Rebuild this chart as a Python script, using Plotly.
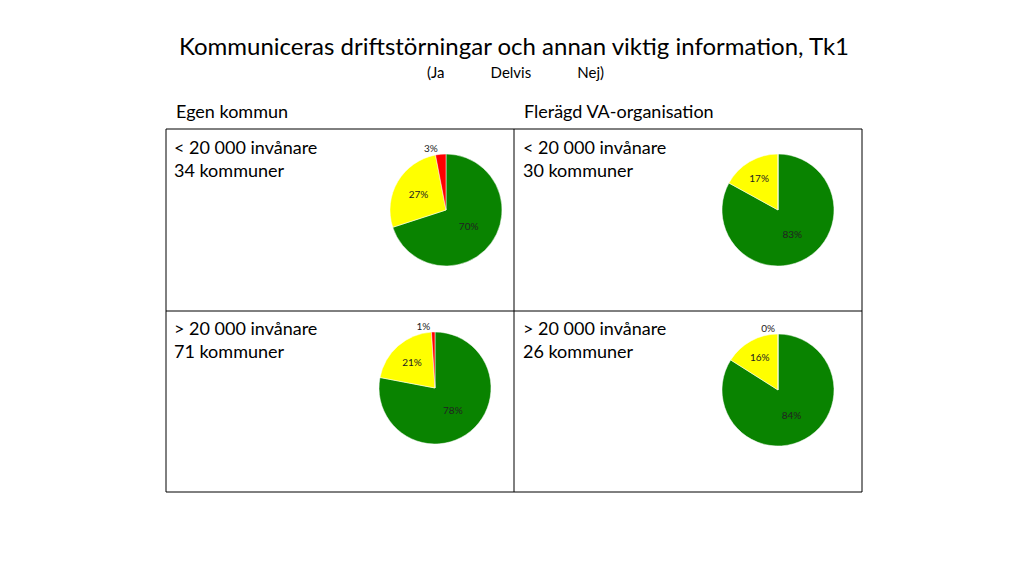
import plotly.graph_objects as go

# data
labels = ['Ja', 'Delvis', 'Nej']
colors = ['#098300', '#ffff00', '#ff0000']
small_egen = [70, 27, 3]
large_egen = [78, 21, 1]
small_fler = [83, 17, 0]
large_fler = [84, 16, 0]

cell_titles = ['< 20 000 invånare<br>34 kommuner', '< 20 000 invånare<br>30 kommuner',
               '> 20 000 invånare<br>71 kommuner', '> 20 000 invånare<br>26 kommuner']

W, H = 1024, 575
OFF = 8  # page body margin
FONT = 'Lato'


def px(x):
    return (x - OFF) / W


def py(y):
    return 1 - (y - OFF) / H


def pie(values, cx, cy, r=56, hide_zero=False):
    tmpl = ['' if (hide_zero and v == 0) else '%{value}%' for v in values]
    return go.Pie(
        labels=labels, values=values,
        marker=dict(colors=colors, line=dict(color='white', width=0.5)),
        sort=False, direction='clockwise', rotation=0,
        texttemplate=tmpl, textposition='auto',
        textfont=dict(size=10, color='#222', family=FONT),
        insidetextorientation='horizontal',
        hoverinfo='label+value', showlegend=False,
        domain=dict(x=[px(cx - r), px(cx + r)], y=[py(cy + r), py(cy - r)]),
    )


fig = go.Figure()
fig.add_trace(pie(small_egen, 446, 210))
fig.add_trace(pie(small_fler, 778, 210, hide_zero=True))
fig.add_trace(pie(large_egen, 435, 388))
fig.add_trace(pie(large_fler, 778, 390))

line = dict(color='black', width=1)
fig.add_shape(type='rect', xref='paper', yref='paper',
              x0=px(166), x1=px(862), y0=py(492), y1=py(129), line=line)
fig.add_shape(type='line', xref='paper', yref='paper',
              x0=px(514), x1=px(514), y0=py(492), y1=py(129), line=line)
fig.add_shape(type='line', xref='paper', yref='paper',
              x0=px(166), x1=px(862), y0=py(311), y1=py(311), line=line)

ann = [
    dict(text='Kommuniceras driftstörningar och annan viktig information, Tk1',
         x=px(514), y=py(45), xanchor='center', size=24),
    dict(text='(Ja            Delvis            Nej)', x=px(515), y=py(72), xanchor='center', size=15),
    dict(text='Egen kommun', x=px(174), y=py(111), xanchor='left', size=18),
    dict(text='Flerägd VA-organisation', x=px(522), y=py(111), xanchor='left', size=18),
    dict(text=cell_titles[0], x=px(172), y=py(158), xanchor='left', size=18),
    dict(text=cell_titles[1], x=px(521), y=py(158), xanchor='left', size=18),
    dict(text=cell_titles[2], x=px(172), y=py(339), xanchor='left', size=18),
    dict(text=cell_titles[3], x=px(521), y=py(339), xanchor='left', size=18),
]
for a in ann:
    fig.add_annotation(text=a['text'], x=a['x'], y=a['y'], xref='paper', yref='paper',
                       xanchor=a['xanchor'], yanchor='middle', showarrow=False, align='left',
                       font=dict(family=FONT, size=a['size'], color='black'))

fig.update_layout(width=W, height=H, margin=dict(l=0, r=0, t=0, b=0),
                  paper_bgcolor='white', plot_bgcolor='white',
                  font=dict(family=FONT))

fig.write_html('out.html')
